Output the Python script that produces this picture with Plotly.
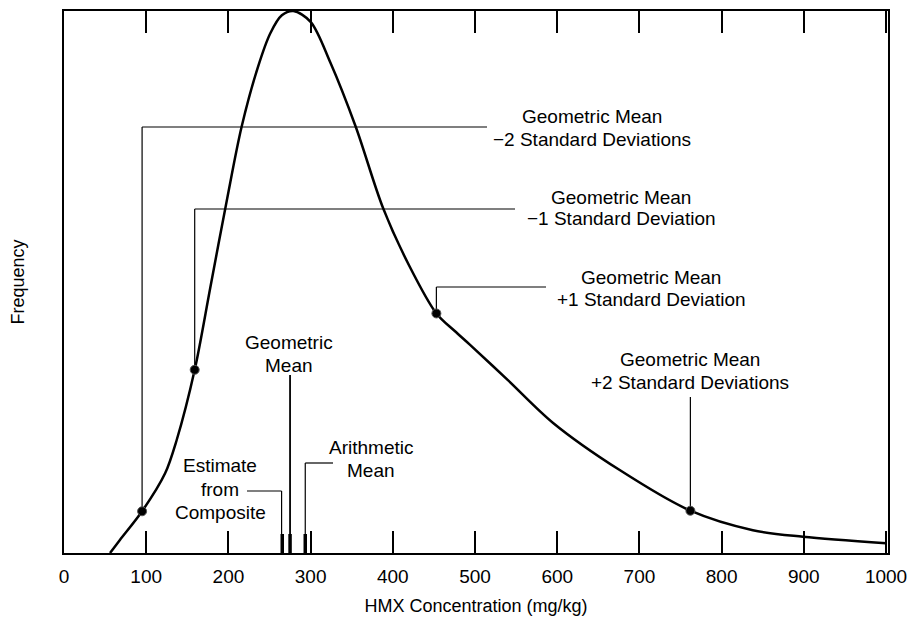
import plotly.graph_objects as go

# ---- data ----
curve_x = [56, 68, 95, 123, 137, 159, 178, 198, 216, 236, 251, 265, 279, 300,
           324, 355, 388, 420, 453, 475, 494, 540, 595, 676, 762, 838, 899, 1000]
curve_y = [0, 2.4, 7.7, 14.7, 20.8, 33.8, 49, 65, 78.6, 89.7, 95.9, 99.2, 100, 98.0,
           90.5, 78.6, 63.7, 53.0, 44.2, 41.0, 38.4, 31.9, 24.0, 15.3, 7.8, 4.2, 3.0, 1.8]

sd_names = ["\u22122 Standard Deviations", "\u22121 Standard Deviation",
            "+1 Standard Deviation", "+2 Standard Deviations"]
sd_x = [95, 159, 453, 762]
sd_y = [7.7, 33.8, 44.2, 7.8]

estimate_x = 265.5
geo_mean_x = 275
arith_mean_x = 293.5

x_ticks = list(range(0, 1001, 100))

# ---- layout helpers (pixel geometry of the plot area) ----
L, R, T, B = 64, 888, 11, 553
W, H = 912, 617
XMAX = 1002.4
YMAX = 100.0


def px(p):  # pixel x -> data x
    return (p - L) / (R - L) * XMAX


def py(p):  # pixel y -> data y
    return (B - p) / (B - T) * YMAX


FONT = "Liberation Sans, Arial, Helvetica, sans-serif"
fig = go.Figure()

fig.add_trace(go.Scatter(x=curve_x, y=curve_y, mode="lines",
                         line=dict(color="black", width=2.5, shape="spline", smoothing=0.9),
                         hoverinfo="skip", showlegend=False))
fig.add_trace(go.Scatter(x=sd_x, y=sd_y, mode="markers",
                         marker=dict(color="black", size=9, line=dict(color="#555", width=1)),
                         showlegend=False))

shapes = []
line_thin = dict(color="black", width=1.2)

# SD leader lines
leader_level = [py(127), py(209), py(287), py(397)]
leader_end = [px(487), px(515), px(546), None]
for xi, yi, lv, le in zip(sd_x, sd_y, leader_level, leader_end):
    shapes.append(dict(type="line", x0=xi, x1=xi, y0=yi, y1=lv, line=line_thin, layer="below"))
    if le is not None:
        shapes.append(dict(type="line", x0=xi, x1=le, y0=lv, y1=lv, line=line_thin, layer="below"))

bar_h = py(534)
# bars at the axis
for bx in [estimate_x, geo_mean_x, arith_mean_x]:
    shapes.append(dict(type="line", x0=bx, x1=bx, y0=0, y1=bar_h,
                       line=dict(color="black", width=3.5)))
# geometric mean line
shapes.append(dict(type="line", x0=geo_mean_x, x1=geo_mean_x, y0=0, y1=py(375),
                   line=dict(color="black", width=1.8)))
# estimate leader
shapes.append(dict(type="line", x0=estimate_x - 0.8, x1=estimate_x - 0.8, y0=bar_h, y1=py(491), line=line_thin))
shapes.append(dict(type="line", x0=estimate_x - 0.8, x1=px(247), y0=py(491), y1=py(491), line=line_thin))
# arithmetic leader
shapes.append(dict(type="line", x0=arith_mean_x, x1=arith_mean_x, y0=bar_h, y1=py(463), line=line_thin))
shapes.append(dict(type="line", x0=arith_mean_x, x1=px(333), y0=py(463), y1=py(463), line=line_thin))

annotations = []


def label(text, cx, cy, size=19):
    annotations.append(dict(text=text, x=px(cx), y=py(cy), xref="x", yref="y",
                            showarrow=False, xanchor="center", yanchor="middle",
                            font=dict(family=FONT, size=size, color="black")))


label_pos = [(592, 116, 139), (621, 197, 218), (651, 277, 299), (690, 359, 382)]
for name, (cx, y1, y2) in zip(sd_names, label_pos):
    label("Geometric Mean", cx, y1)
    label(name, cx, y2)

label("Geometric", 289, 342)
label("Mean", 289, 365)
label("Estimate", 220, 465)
label("from", 220, 489)
label("Composite", 220, 512)
label("Arithmetic", 371, 447)
label("Mean", 371, 470)

fig.update_layout(
    width=W, height=H,
    margin=dict(l=L, r=W - R, t=T, b=H - B, pad=0),
    paper_bgcolor="white", plot_bgcolor="white",
    font=dict(family=FONT, size=19, color="black"),
    shapes=shapes, annotations=annotations,
    xaxis=dict(range=[0, XMAX], tickvals=x_ticks, ticktext=[str(v) for v in x_ticks],
               ticks="inside", ticklen=22, tickwidth=2, tickcolor="black",
               showline=True, linecolor="black", linewidth=2, mirror="ticks",
               showgrid=False, zeroline=False, automargin=False,
               ticklabelstandoff=5,
               tickfont=dict(family=FONT, size=19),
               title=dict(text="HMX Concentration (mg/kg)", font=dict(family=FONT, size=18),
                          standoff=14)),
    yaxis=dict(range=[0, YMAX], showticklabels=False, ticks="",
               showline=True, linecolor="black", linewidth=2, mirror=True,
               showgrid=False, zeroline=False, automargin=False,
               title=dict(text="Frequency", font=dict(family=FONT, size=18), standoff=33)),
)

fig.write_html("out.html", config={"displayModeBar": False},
               post_script="document.body.style.margin='0';document.body.style.padding='0';")
